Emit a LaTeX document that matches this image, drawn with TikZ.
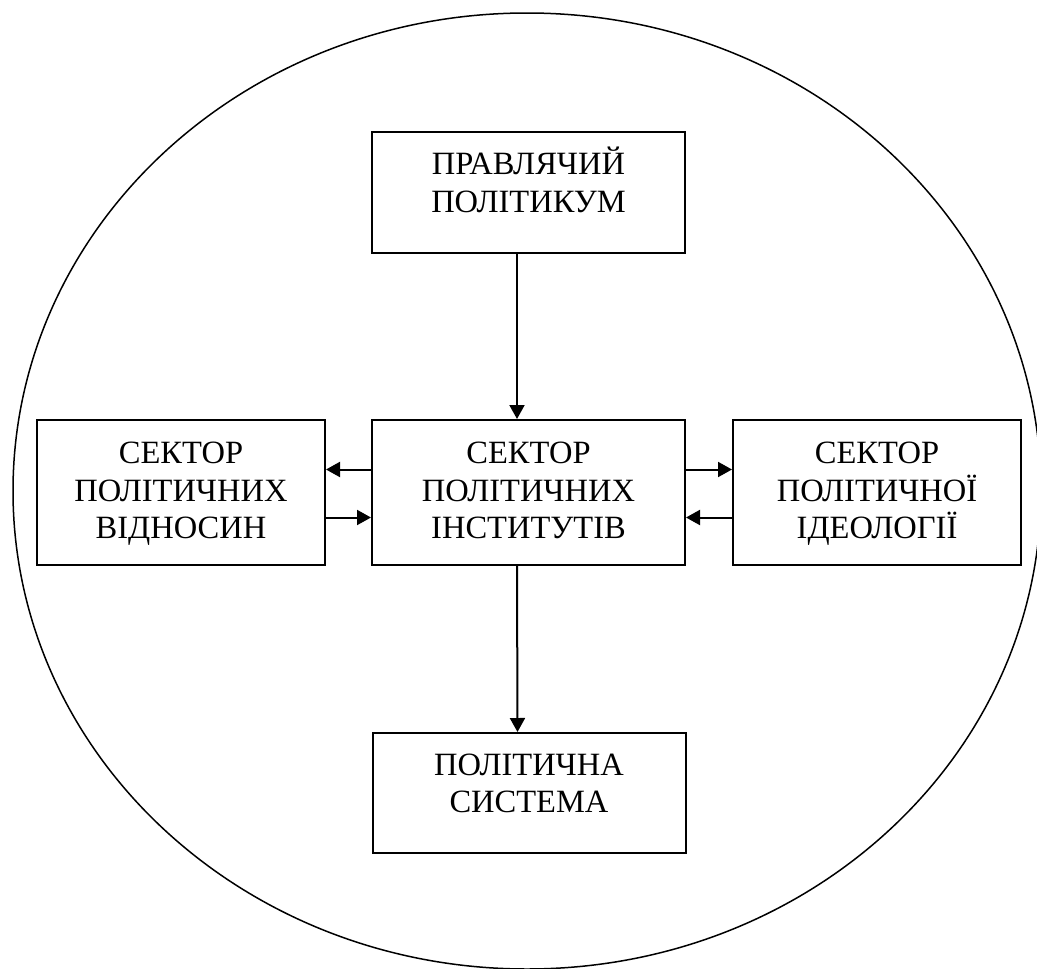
\documentclass[tikz,border=0pt]{standalone}
\usepackage{fontspec}
\setmainfont{Liberation Serif}
\usetikzlibrary{arrows.meta, positioning, calc}
\newcommand{\rows}[1]{\begin{tabular}[t]{@{}c@{}}#1\end{tabular}}
\tikzstyle{flow} = [line width=2pt, -{Triangle[length=14pt, width=15pt]}]
\tikzstyle{sector} = [rectangle, draw=black, line width=2pt, minimum width=313pt, minimum height=145pt, inner sep=0pt]
\tikzstyle{side} = [sector, minimum width=288pt]
\tikzstyle{txt} = [font=\fontsize{32.5}{37.5}\selectfont, inner sep=0pt, anchor=base]

\begin{document}
\begin{tikzpicture}[x=1pt, y=-1pt]
				\useasboundingbox (0,0) rectangle (1037,969);
				%outer ellipse
				\draw[line width=1.5pt] (527,491) ellipse [x radius=514, y radius=478];

				%\node(label)[type]{name}
				\node(head)[sector, minimum height=121pt] at (528.5,192.5) {};
				\node(inst)[sector] at (528.5,492.5) {};
				\node(rel)[side] at (181,492.5) {};
				\node(ideo)[side] at (877,492.5) {};
				\node(sys)[sector, minimum height=120pt] at (529,793) {};

				%texts (first baseline)
				\node(headtxt)[txt] at ([yshift=18pt]head.center) {\rows{ПРАВЛЯЧИЙ\\ПОЛІТИКУМ}};
				\node(insttxt)[txt] at ([yshift=29pt]inst.center) {\rows{СЕКТОР\\ПОЛІТИЧНИХ\\ІНСТИТУТІВ}};
				\node(reltxt)[txt] at ([yshift=29pt]rel.center) {\rows{СЕКТОР\\ПОЛІТИЧНИХ\\ВІДНОСИН}};
				\node(ideotxt)[txt] at ([yshift=29pt]ideo.center) {\rows{СЕКТОР\\ПОЛІТИЧНОЇ\\ІДЕОЛОГІЇ}};
				\node(systxt)[txt] at ([yshift=18pt]sys.center) {\rows{ПОЛІТИЧНА\\СИСТЕМА}};

				%arrows
					\draw [flow] ([xshift=-11.5pt]head.south) -- ([xshift=-11.5pt]inst.north);
					\draw [flow] ([xshift=-11.5pt]inst.south) -- ([xshift=-11.5pt]sys.north);
					\draw [flow] ([yshift=23pt]inst.west) -- ([yshift=23pt]rel.east);
					\draw [flow] ([yshift=-25pt]rel.east) -- ([yshift=-25pt]inst.west);
					\draw [flow] ([yshift=23pt]inst.east) -- ([yshift=23pt]ideo.west);
					\draw [flow] ([yshift=-25pt]ideo.west) -- ([yshift=-25pt]inst.east);
\end{tikzpicture}
\end{document}
